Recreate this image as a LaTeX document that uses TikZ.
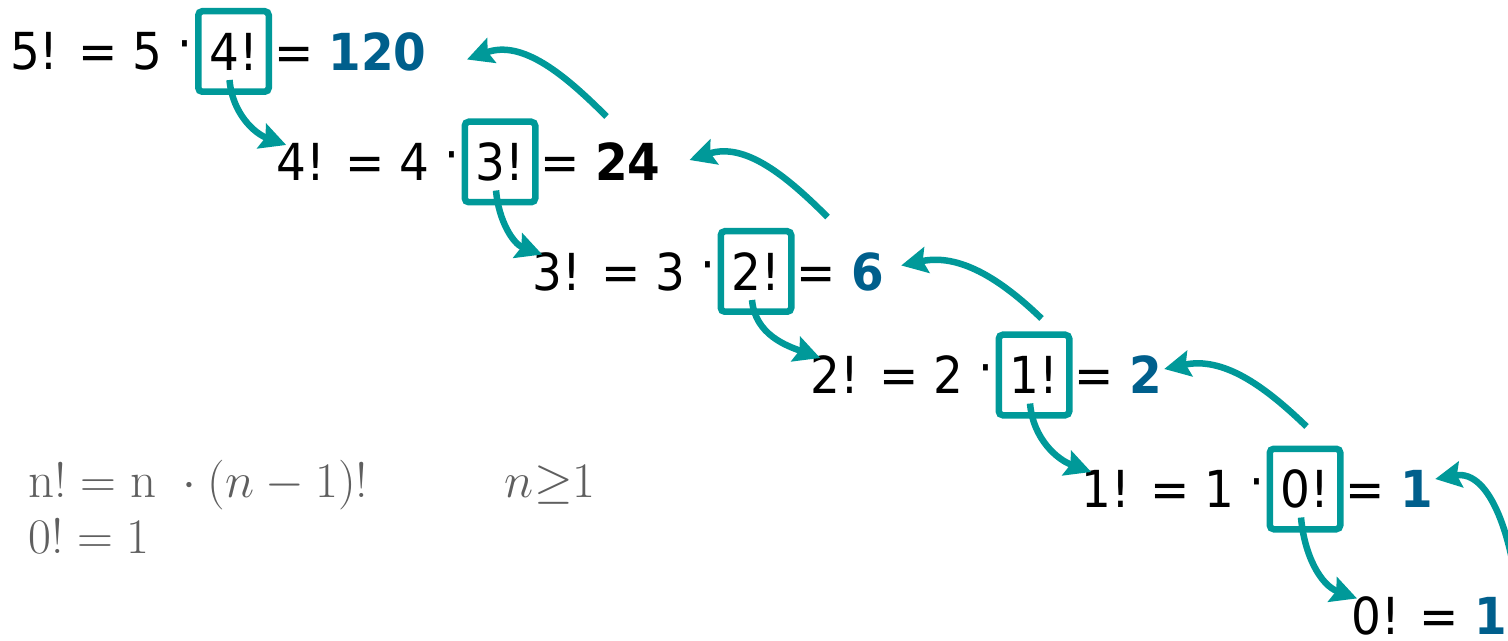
\documentclass[tikz,border=0pt]{standalone}
\usepackage{amsmath}
\usepackage{fontspec}
\usepackage{tikz}
\usepackage{xcolor}
\usetikzlibrary{arrows.meta, positioning, calc}
\newfontfamily\verd{DejaVu Sans}[FakeStretch=0.92]
\definecolor{cTeal}{RGB}{0,153,153}
\definecolor{cBlue}{RGB}{0,95,140}
\definecolor{cGray}{RGB}{95,95,95}
\newcommand{\res}[1]{\textbf{\color{cBlue}#1}}
\newcommand{\mdot}{\raisebox{4pt}{·}}
\tikzset{
    factxt/.style   ={font=\verd\fontsize{25.5}{30}\selectfont, inner sep=0pt, text=black},
    callbox/.style  ={factxt, draw=cTeal, line width=3.25pt, rounded corners=2pt, minimum width=35.25pt, minimum height=40.25pt},
    callarrow/.style={draw=cTeal, line width=3.25pt, -{Stealth[length=13pt, width=13pt, inset=2pt]}},
    formula/.style  ={font=\fontsize{25.5}{28}\selectfont, text=cGray, inner sep=0pt},
}

\begin{document}
\begin{tikzpicture}[x=0.5pt, y=-0.5pt]
        \useasboundingbox (0,0) rectangle (1508,641);
        % boxed recursive calls
        \node[callbox] (b1) at (233.5,51.5) {4!};
        \node[callbox] (b2) at (500,162)    {3!};
        \node[callbox] (b3) at (756,271.5)  {2!};
        \node[callbox] (b4) at (1034,375)   {1!};
        \node[callbox] (b5) at (1305,489)   {0!};

        \node[factxt, left=1pt of b1] (l1) {5! = 5 \mdot};
        \node[factxt, left=1pt of b2] (l2) {4! = 4 \mdot};
        \node[factxt, left=1pt of b3] (l3) {3! = 3 \mdot};
        \node[factxt, left=1pt of b4] (l4) {2! = 2 \mdot};
        \node[factxt, left=1pt of b5] (l5) {1! = 1 \mdot};
        \node[factxt, anchor=base west] (l6) at (1351,634) {0! = \res{1}};

        \node[factxt, right=1pt of b1] (r1) {= \res{120}};
        \node[factxt, right=1pt of b2] (r2) {= \textbf{24}};
        \node[factxt, right=1pt of b3] (r3) {= \res{6}};
        \node[factxt, right=1pt of b4] (r4) {= \res{2}};
        \node[factxt, right=1pt of b5] (r5) {= \res{1}};

        % definition
        \node[formula, anchor=base west] (rec)  at (28,497) {$\mathrm{n}!=\mathrm{n}\ \cdot(n-1)!$};
        \node[formula, anchor=base west] (init) at (28,553) {$0!=1$};
        \node[formula, base right=68pt of rec] (cond) {$n{\geq}1$};

        % calls going down
        \draw[callarrow] ([xshift=-2pt,yshift=7.5pt]b1.south) to[out=-85,in=160] ([xshift=5pt,yshift=8.5pt]l2.west);
        \draw[callarrow] ([xshift=-2pt,yshift=7.5pt]b2.south) to[out=-85,in=160] ([xshift=5pt,yshift=8.5pt]l3.west);
        \draw[callarrow] ([xshift=-2pt,yshift=7.5pt]b3.south) to[out=-85,in=160] ([xshift=5pt,yshift=8.5pt]l4.west);
        \draw[callarrow] ([xshift=-2pt,yshift=7.5pt]b4.south) to[out=-85,in=160] ([xshift=5pt,yshift=8.5pt]l5.west);
        \draw[callarrow] ([xshift=-2pt,yshift=7.5pt]b5.south) to[out=-85,in=160] ([xshift=3pt,yshift=8.5pt]l6.west);

        % values going back up
        \coordinate (off5) at (1518,600);
        \draw[callarrow] ([xshift=34pt,yshift=1pt]b2.north east)      to[out=135,in=20] ([xshift=20pt,yshift=-4pt]r1.east);
        \draw[callarrow] ([xshift=16.5pt,yshift=5.5pt]b3.north east)  to[out=135,in=18] ([xshift=14.3pt,yshift=1pt]r2.east);
        \draw[callarrow] ([xshift=-15.5pt,yshift=6.5pt]b4.north east) to[out=136,in=12] ([xshift=8.5pt,yshift=3pt]r3.east);
        \draw[callarrow] ([xshift=-18.5pt,yshift=9.5pt]b5.north east) to[out=136,in=12] ([xshift=1pt,yshift=3pt]r4.east);
        \draw[callarrow] (off5) to[out=95,in=10] ([xshift=1pt,yshift=5pt]r5.east);
    \end{tikzpicture}
\end{document}
